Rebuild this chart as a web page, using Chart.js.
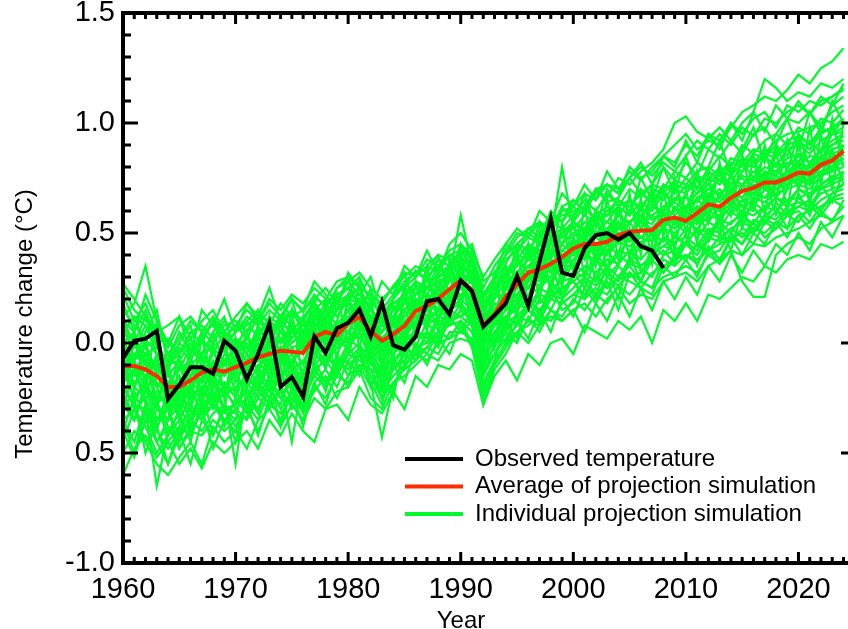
<!DOCTYPE html>
<html>
<head>
<meta charset="utf-8">
<script src="https://cdn.jsdelivr.net/npm/chart.js@4.4.1/dist/chart.umd.min.js"></script>
<style>
  html, body { margin: 0; padding: 0; background: #fff; }
</style>
</head>
<body>
<canvas id="chart" width="848" height="629"></canvas>
<script>
// x categories: one value per year
const years = [];
for (let yr = 1960; yr <= 2024; yr++) years.push(yr);

const yTickLabels = ['-1.0', '0.5', '0.0', '0.5', '1.0', '1.5'];
const xTitle = 'Year';
const yTitle = 'Temperature change (°C)';
const legendLabels = ['Observed temperature', 'Average of projection simulation', 'Individual projection simulation'];

const observed = [
  -0.07, 0.01, 0.02, 0.055, -0.255, -0.19, -0.11, -0.11, -0.14, 0.01,
  -0.035, -0.165, -0.05, 0.088, -0.2, -0.155, -0.245, 0.03, -0.045, 0.067,
  0.092, 0.153, 0.03, 0.185, -0.01, -0.03, 0.03, 0.19, 0.2, 0.13,
  0.285, 0.235, 0.075, 0.125, 0.18, 0.305, 0.168, 0.37, 0.565, 0.32,
  0.305, 0.43, 0.49, 0.5, 0.47, 0.5, 0.44, 0.42, 0.34
];

const average = [
  -0.105, -0.105, -0.12, -0.15, -0.2, -0.2, -0.17, -0.135, -0.12, -0.13,
  -0.11, -0.09, -0.065, -0.05, -0.035, -0.04, -0.045, 0.027, 0.05, 0.035,
  0.09, 0.118, 0.055, 0.01, 0.04, 0.077, 0.145, 0.168, 0.2, 0.244,
  0.285, 0.24, 0.08, 0.13, 0.21, 0.267, 0.32, 0.335, 0.36, 0.39,
  0.43, 0.45, 0.45, 0.46, 0.49, 0.506, 0.51, 0.513, 0.56, 0.57,
  0.555, 0.59, 0.63, 0.62, 0.66, 0.69, 0.705, 0.73, 0.73, 0.75,
  0.775, 0.77, 0.81, 0.83, 0.873
];

// individual runs, 1960-2024
const sim01 = [0.12,0.18,0.35,0.10,-0.05,0.02,0.10,0.05,0.12,0.03, 0.08,0.15,0.10,0.18,0.12,0.20,0.14,0.22,0.16,0.25, 0.28,0.22,0.30,0.12,0.20,0.26,0.33,0.28,0.38,0.35, 0.42,0.40,0.22,0.30,0.45,0.40,0.52,0.48,0.60,0.55, 0.62,0.58,0.70,0.64,0.66,0.75,0.68,0.72,0.80,0.74, 0.82,0.76,0.88,0.84,0.92,0.86,0.95,0.98,0.90,1.02, 1.00,1.05,0.98,1.08,1.12];
const sim02 = [-0.45,-0.30,-0.38,-0.50,-0.42,-0.35,-0.40,-0.32,-0.28,-0.36, -0.30,-0.34,-0.22,-0.28,-0.20,-0.30,-0.25,-0.15,-0.20,-0.12, -0.10,-0.05,-0.15,-0.25,-0.12,-0.08,-0.02,0.00,0.05,0.02, 0.10,0.05,-0.12,-0.05,0.02,0.08,0.15,0.10,0.20,0.18, 0.22,0.28,0.20,0.30,0.26,0.32,0.28,0.25,0.38,0.35, 0.40,0.36,0.44,0.38,0.48,0.50,0.45,0.55,0.52,0.58, 0.60,0.55,0.62,0.66,0.68];
const sim03 = [-0.08,-0.15,-0.05,-0.18,-0.25,-0.15,-0.22,-0.10,-0.16,-0.08, -0.14,-0.05,-0.12,0.00,-0.08,-0.02,-0.10,0.06,0.00,0.08, 0.05,0.15,0.08,-0.04,0.10,0.04,0.18,0.12,0.22,0.20, 0.30,0.22,0.05,0.18,0.16,0.30,0.28,0.38,0.32,0.42, 0.40,0.48,0.42,0.50,0.45,0.55,0.48,0.52,0.58,0.54, 0.60,0.56,0.65,0.60,0.70,0.66,0.74,0.70,0.76,0.72, 0.80,0.75,0.84,0.80,0.88];
const sim04 = [-0.20,-0.28,-0.30,-0.65,-0.40,-0.32,-0.20,-0.26,-0.18,-0.24, -0.20,-0.15,-0.22,-0.10,-0.16,-0.08,-0.18,-0.05,-0.10,0.00, -0.02,0.05,-0.08,-0.15,-0.05,0.00,0.06,0.02,0.12,0.10, 0.18,0.12,-0.05,0.05,0.10,0.18,0.15,0.25,0.22,0.30, 0.32,0.30,0.38,0.34,0.40,0.36,0.45,0.40,0.44,0.48, 0.45,0.52,0.50,0.56,0.54,0.60,0.58,0.62,0.66,0.64, 0.70,0.66,0.72,0.76,0.74];
const sim05 = [0.05,-0.02,0.08,0.00,-0.10,-0.05,0.02,-0.08,0.00,-0.04, 0.02,-0.05,0.05,0.02,0.08,0.00,0.05,0.12,0.08,0.15, 0.20,0.18,0.10,0.05,0.12,0.18,0.22,0.30,0.25,0.32, 0.38,0.30,0.15,0.22,0.32,0.36,0.40,0.45,0.42,0.50, 0.55,0.50,0.58,0.55,0.62,0.58,0.64,0.60,0.68,0.65, 0.72,0.68,0.75,0.72,0.80,0.78,0.82,0.85,0.80,0.88, 0.90,0.86,0.92,0.95,0.98];
const sim06 = [-0.25,-0.10,-0.20,-0.30,-0.35,-0.22,-0.30,-0.15,-0.28,-0.18, -0.25,-0.12,-0.18,-0.05,-0.15,-0.10,-0.20,-0.02,-0.08,0.02, 0.00,0.08,-0.02,-0.10,0.02,0.10,0.08,0.18,0.14,0.22, 0.25,0.18,0.00,0.10,0.20,0.22,0.30,0.26,0.35,0.30, 0.38,0.42,0.36,0.45,0.40,0.48,0.44,0.50,0.46,0.55, 0.50,0.58,0.55,0.62,0.58,0.65,0.62,0.70,0.66,0.72, 0.75,0.72,0.78,0.80,0.84];
const sim07 = [0.00,-0.08,-0.02,-0.12,-0.15,-0.20,-0.10,-0.05,-0.12,0.00, -0.05,0.00,-0.06,0.05,0.00,0.08,0.02,0.10,0.15,0.08, 0.15,0.20,0.12,0.02,0.08,0.15,0.20,0.18,0.28,0.30, 0.58,0.35,0.10,0.20,0.28,0.32,0.38,0.35,0.45,0.48, 0.48,0.55,0.50,0.52,0.58,0.55,0.60,0.58,0.62,0.66, 0.62,0.68,0.72,0.66,0.75,0.72,0.78,0.76,0.82,0.80, 0.85,0.82,0.88,0.90,0.92];
const sim08 = [-0.35,-0.45,-0.28,-0.40,-0.48,-0.40,-0.55,-0.35,-0.42,-0.30, -0.38,-0.28,-0.35,-0.20,-0.30,-0.22,-0.32,-0.18,-0.12,-0.20, -0.08,-0.15,-0.05,-0.20,-0.10,-0.02,-0.05,0.05,0.00,0.10, 0.12,0.08,-0.15,0.00,0.05,0.12,0.10,0.20,0.15,0.25, 0.28,0.22,0.30,0.25,0.35,0.30,0.32,0.38,0.42,0.36, 0.45,0.40,0.48,0.46,0.52,0.48,0.56,0.54,0.60,0.58, 0.62,0.65,0.60,0.68,0.72];
const sim09 = [0.10,0.05,0.15,0.00,0.02,-0.05,0.05,0.08,0.02,0.10, 0.05,0.12,0.08,0.15,0.10,0.05,0.12,0.18,0.12,0.22, 0.25,0.30,0.18,0.15,0.22,0.25,0.30,0.35,0.32,0.40, 0.42,0.38,0.20,0.28,0.36,0.45,0.42,0.50,0.55,0.52, 0.58,0.65,0.60,0.68,0.62,0.70,0.66,0.72,0.70,0.78, 0.75,0.82,0.78,0.85,0.80,0.90,0.86,0.92,0.95,0.90, 0.98,0.95,1.02,1.00,1.06];
const sim10 = [-0.15,-0.20,-0.25,-0.22,-0.30,-0.28,-0.18,-0.22,-0.10,-0.20, -0.15,-0.20,-0.10,-0.12,-0.05,-0.12,-0.08,-0.02,0.02,-0.05, 0.05,0.02,0.00,-0.08,-0.02,0.06,0.12,0.10,0.15,0.18, 0.22,0.20,0.02,0.08,0.15,0.20,0.25,0.30,0.28,0.35, 0.35,0.40,0.38,0.42,0.46,0.44,0.48,0.46,0.52,0.50, 0.55,0.52,0.58,0.56,0.62,0.60,0.66,0.64,0.68,0.70, 0.72,0.70,0.76,0.78,0.80];
const sim11 = [0.22,0.10,0.18,0.05,0.08,0.12,0.02,0.10,0.15,0.05, 0.12,0.18,0.10,0.20,0.15,0.22,0.18,0.25,0.20,0.28, 0.30,0.25,0.22,0.18,0.26,0.32,0.30,0.38,0.35,0.42, 0.45,0.40,0.25,0.35,0.42,0.50,0.48,0.55,0.52,0.62, 0.65,0.60,0.68,0.72,0.70,0.78,0.74,0.80,0.85,0.90, 0.95,0.88,0.92,0.90,0.98,1.05,1.08,1.12,1.10,1.15, 1.22,1.18,1.25,1.28,1.34];
const sim12 = [-0.50,-0.40,-0.45,-0.55,-0.60,-0.52,-0.45,-0.55,-0.38,-0.45, -0.40,-0.48,-0.35,-0.30,-0.38,-0.28,-0.35,-0.25,-0.30,-0.22, -0.20,-0.12,-0.25,-0.30,-0.18,-0.15,-0.10,-0.05,-0.08,0.00, 0.02,0.00,-0.20,-0.10,-0.02,0.05,0.00,0.08,0.12,0.10, 0.15,0.18,0.12,0.20,0.25,0.18,0.22,0.20,0.28,0.30, 0.32,0.28,0.35,0.38,0.42,0.40,0.45,0.44,0.48,0.50, 0.52,0.55,0.58,0.56,0.62];
const sim13 = [-0.05,0.02,-0.08,-0.10,-0.18,-0.12,-0.08,-0.15,-0.05,-0.10, -0.02,-0.08,0.02,-0.04,0.05,-0.02,0.00,0.08,0.12,0.05, 0.12,0.15,0.05,0.08,0.05,0.12,0.18,0.22,0.20,0.28, 0.32,0.28,0.12,0.15,0.25,0.30,0.35,0.40,0.48,0.80, 0.52,0.48,0.55,0.50,0.58,0.54,0.62,0.56,0.60,0.64, 0.60,0.66,0.70,0.68,0.72,0.75,0.70,0.78,0.76,0.82, 0.80,0.85,0.84,0.90,0.94];
const sim14 = [-0.12,-0.25,-0.18,-0.28,-0.22,-0.35,-0.25,-0.20,-0.30,-0.22, -0.28,-0.18,-0.25,-0.15,-0.20,-0.12,-0.22,-0.10,-0.05,-0.12, -0.05,0.00,-0.10,-0.12,-0.08,-0.02,0.05,0.00,0.10,0.08, 0.15,0.10,-0.08,0.02,0.12,0.15,0.20,0.18,0.25,0.28, 0.30,0.35,0.32,0.38,0.36,0.42,0.38,0.44,0.40,0.46, 0.48,0.44,0.52,0.50,0.55,0.58,0.54,0.62,0.60,0.65, 0.66,0.68,0.70,0.74,0.76];
const sim15 = [0.15,0.08,0.02,-0.05,-0.12,-0.02,-0.08,0.02,-0.05,0.05, 0.00,0.05,0.10,0.05,0.12,0.08,0.02,0.15,0.10,0.18, 0.22,0.25,0.15,0.10,0.18,0.20,0.28,0.25,0.32,0.35, 0.35,0.32,0.18,0.25,0.30,0.38,0.45,0.42,0.48,0.52, 0.52,0.58,0.55,0.60,0.65,0.62,0.68,0.64,0.72,0.70, 0.68,0.75,0.72,0.78,0.76,0.82,0.80,0.86,0.84,0.90, 0.92,0.88,0.95,0.98,1.00];
const sim16 = [-0.30,-0.22,-0.35,-0.28,-0.38,-0.45,-0.32,-0.28,-0.25,-0.35, -0.30,-0.25,-0.18,-0.25,-0.15,-0.20,-0.28,-0.12,-0.18,-0.08, -0.12,-0.05,-0.18,-0.43,-0.20,-0.10,-0.05,-0.02,0.05,0.08, 0.10,0.05,-0.10,-0.02,0.08,0.10,0.15,0.12,0.22,0.20, 0.25,0.30,0.26,0.32,0.28,0.36,0.34,0.30,0.40,0.42, 0.38,0.45,0.42,0.48,0.46,0.52,0.50,0.56,0.54,0.60, 0.62,0.60,0.65,0.68,0.70];
const sim17 = [0.25,0.15,0.10,0.05,-0.02,0.08,0.12,0.05,0.00,0.08, 0.10,0.05,0.15,0.08,0.18,0.12,0.15,0.20,0.25,0.18, 0.28,0.32,0.25,0.20,0.25,0.30,0.35,0.32,0.40,0.38, 0.40,0.45,0.28,0.32,0.40,0.48,0.52,0.55,0.50,0.60, 0.62,0.68,0.65,0.72,0.68,0.75,0.80,0.76,0.82,0.78, 0.85,0.92,0.88,0.95,0.90,0.98,0.94,1.02,1.00,1.05, 1.08,1.04,1.10,1.12,1.15];
const sim18 = [-0.02,-0.10,-0.15,-0.08,-0.22,-0.18,-0.12,-0.18,-0.08,-0.15, -0.08,-0.12,-0.02,-0.08,0.02,-0.05,-0.02,0.05,0.02,0.10, 0.08,0.12,0.02,0.00,0.05,0.10,0.15,0.20,0.18,0.25, 0.28,0.25,0.08,0.12,0.22,0.25,0.32,0.30,0.38,0.35, 0.45,0.42,0.48,0.44,0.52,0.50,0.55,0.52,0.58,0.56, 0.58,0.62,0.60,0.66,0.64,0.70,0.68,0.74,0.72,0.78, 0.76,0.80,0.82,0.85,0.86];
const sim19 = [-0.40,-0.52,-0.35,-0.45,-0.38,-0.48,-0.40,-0.42,-0.35,-0.40, -0.35,-0.30,-0.40,-0.28,-0.32,-0.25,-0.30,-0.22,-0.15,-0.25, -0.15,-0.10,-0.20,-0.22,-0.15,-0.10,-0.05,-0.08,0.00,0.02, 0.05,0.02,-0.18,-0.08,0.00,0.05,0.10,0.08,0.15,0.12, 0.20,0.15,0.22,0.18,0.26,0.22,0.28,0.25,0.30,0.32, 0.35,0.32,0.40,0.36,0.42,0.28,0.21,0.21,0.40,0.45, 0.48,0.45,0.52,0.55,0.58];
const sim20 = [0.08,0.00,-0.05,-0.02,-0.10,-0.08,-0.15,-0.05,-0.02,-0.08, -0.02,0.02,-0.02,0.08,0.02,0.05,-0.02,0.12,0.08,0.15, 0.18,0.12,0.15,0.08,0.10,0.15,0.22,0.25,0.22,0.30, 0.35,0.30,0.15,0.20,0.28,0.32,0.38,0.42,0.40,0.45, 0.50,0.52,0.50,0.55,0.52,0.60,0.58,0.62,0.60,0.65, 0.66,0.64,0.70,0.74,0.70,0.76,0.74,0.80,0.78,0.84, 0.86,0.82,0.88,0.92,0.95];
const sim21 = [-0.18,-0.12,-0.28,-0.35,-0.28,-0.25,-0.22,-0.30,-0.20,-0.18, -0.22,-0.15,-0.20,-0.08,-0.12,-0.18,-0.12,-0.05,-0.10,-0.02, 0.02,-0.02,-0.05,-0.18,-0.05,0.02,0.10,0.08,0.12,0.15, 0.20,0.15,-0.02,0.08,0.12,0.18,0.22,0.25,0.30,0.28, 0.36,0.32,0.40,0.35,0.42,0.40,0.46,0.42,0.48,0.45, 0.52,0.48,0.55,0.52,0.60,0.56,0.64,0.60,0.66,0.62, 0.70,0.68,0.72,0.75,0.78];
const sim22 = [0.05,0.12,0.08,-0.05,-0.08,0.00,-0.05,0.05,0.08,0.00, 0.05,0.08,0.12,0.10,0.05,0.15,0.10,0.20,0.18,0.22, 0.25,0.28,0.20,0.12,0.20,0.28,0.32,0.30,0.35,0.40, 0.38,0.35,0.22,0.30,0.38,0.42,0.48,0.45,0.55,0.58, 0.60,0.62,0.70,0.66,0.75,0.72,0.78,0.82,0.88,1.00, 1.03,0.96,0.93,0.98,0.92,1.00,1.05,1.20,1.16,1.10, 1.14,1.12,1.18,1.16,1.20];
const sim23 = [-0.28,-0.35,-0.22,-0.25,-0.45,-0.38,-0.30,-0.35,-0.28,-0.32, -0.28,-0.22,-0.30,-0.18,-0.25,-0.15,-0.20,-0.12,-0.08,-0.15, -0.05,-0.08,-0.12,-0.15,-0.12,-0.05,0.02,0.05,0.02,0.12, 0.12,0.15,-0.05,0.00,0.10,0.12,0.18,0.22,0.20,0.25, 0.28,0.32,0.28,0.35,0.30,0.38,0.35,0.40,0.44,0.42, 0.46,0.42,0.50,0.48,0.52,0.55,0.52,0.58,0.56,0.62, 0.64,0.62,0.68,0.70,0.72];
const sim24 = [0.00,0.05,-0.10,-0.08,-0.05,-0.12,-0.02,-0.08,-0.10,-0.02, 0.02,-0.02,0.05,0.10,0.05,0.02,0.08,0.10,0.18,0.12, 0.20,0.22,0.15,0.10,0.15,0.22,0.25,0.28,0.30,0.35, 0.40,0.32,0.18,0.22,0.30,0.35,0.42,0.40,0.48,0.50, 0.55,0.52,0.58,0.62,0.58,0.65,0.62,0.68,0.65,0.72, 0.70,0.76,0.74,0.80,0.78,0.84,0.82,0.88,0.86,0.92, 0.94,0.90,0.96,0.98,1.02];
const sim25 = [-0.10,-0.18,-0.12,-0.20,-0.30,-0.25,-0.35,-0.20,-0.15,-0.25, -0.55,-0.20,-0.15,-0.10,-0.18,-0.45,-0.15,-0.02,-0.05,0.05, 0.02,0.08,0.00,-0.05,0.00,0.05,0.10,0.15,0.12,0.20, 0.25,0.20,0.00,0.10,0.18,0.22,0.28,0.32,0.30,0.38, 0.40,0.38,0.44,0.40,0.46,0.48,0.45,0.50,0.55,0.52, 0.56,0.54,0.60,0.58,0.64,0.62,0.68,0.66,0.70,0.72, 0.74,0.72,0.78,0.80,0.82];
const sim26 = [-0.05,-0.05,0.00,-0.15,-0.20,-0.10,-0.15,-0.12,-0.18,-0.05, -0.10,-0.02,-0.08,0.02,-0.05,0.05,0.00,0.08,0.05,0.02, 0.10,0.18,0.05,0.02,0.08,0.12,0.20,0.15,0.25,0.22, 0.30,0.28,0.10,0.15,0.25,0.28,0.35,0.32,0.40,0.42, 0.46,0.44,0.50,0.48,0.55,0.50,0.56,0.54,0.62,0.58, 0.62,0.60,0.68,0.64,0.70,0.72,0.75,0.72,0.78,0.76, 0.82,0.80,0.84,0.88,0.90];
const sim27 = [-0.60,-0.48,-0.42,-0.52,-0.45,-0.55,-0.48,-0.57,-0.45,-0.50, -0.45,-0.40,-0.48,-0.35,-0.42,-0.32,-0.40,-0.45,-0.30,-0.28, -0.35,-0.20,-0.28,-0.32,-0.22,-0.30,-0.15,-0.20,-0.10,-0.12, -0.05,-0.08,-0.28,-0.15,-0.08,-0.17,-0.05,-0.10,0.00,0.02, -0.05,0.08,0.05,0.02,0.10,0.06,0.12,0.00,0.15,0.10, 0.18,0.10,0.22,0.20,0.25,0.30,0.28,0.35,0.32,0.38, 0.40,0.38,0.45,0.43,0.46];
const sim28 = [-0.15,-0.05,-0.10,-0.12,-0.25,-0.30,-0.20,-0.10,-0.15,-0.20, -0.12,-0.08,0.00,-0.05,-0.02,-0.08,0.00,0.02,0.08,0.02, 0.12,0.08,0.05,-0.02,0.02,0.08,0.12,0.18,0.15,0.22, 0.25,0.28,0.05,0.15,0.18,0.25,0.30,0.35,0.32,0.40, 0.42,0.45,0.40,0.48,0.50,0.46,0.52,0.58,0.55,0.60, 0.62,0.58,0.64,0.62,0.68,0.66,0.72,0.70,0.74,0.76, 0.78,0.76,0.80,0.84,0.86];
const sim29 = [0.27,0.20,0.12,0.05,0.00,-0.05,0.05,0.00,0.10,0.02, 0.08,0.02,0.12,0.05,0.10,0.15,0.08,0.15,0.20,0.15, 0.22,0.20,0.12,0.05,0.15,0.18,0.25,0.22,0.30,0.32, 0.38,0.35,0.18,0.25,0.32,0.40,0.38,0.45,0.50,0.48, 0.55,0.52,0.60,0.58,0.62,0.65,0.60,0.70,0.68,0.74, 0.72,0.78,0.80,0.76,0.84,0.82,0.88,0.86,0.92,0.95, 0.96,0.98,1.00,1.05,1.08];
const sim30 = [-0.35,-0.30,-0.45,-0.38,-0.55,-0.42,-0.35,-0.40,-0.32,-0.28, -0.32,-0.35,-0.25,-0.30,-0.22,-0.28,-0.35,-0.20,-0.25,-0.15, -0.18,-0.10,-0.12,-0.25,-0.18,-0.12,-0.08,-0.02,-0.05,0.05, 0.05,0.10,-0.28,-0.12,-0.05,0.05,0.08,0.12,0.10,0.18, 0.22,0.20,0.25,0.22,0.30,0.28,0.25,0.32,0.35,0.38, 0.40,0.38,0.42,0.45,0.48,0.45,0.52,0.50,0.55,0.52, 0.58,0.60,0.62,0.65,0.66];
const sim31 = [0.05,-0.22,0.02,-0.30,-0.08,-0.35,-0.05,-0.28,0.00,-0.25, 0.02,-0.20,0.08,-0.18,0.10,-0.15,0.12,-0.10,0.18,-0.08, 0.22,-0.02,0.18,-0.12,0.18,-0.05,0.28,0.05,0.32,0.10, 0.40,0.10,0.18,-0.02,0.32,0.12,0.45,0.20,0.48,0.25, 0.58,0.30,0.60,0.32,0.62,0.38,0.66,0.36,0.70,0.42, 0.70,0.45,0.78,0.48,0.80,0.55,0.85,0.58,0.88,0.60, 0.92,0.62,0.95,0.70,1.00];
const sim32 = [-0.15,0.05,-0.20,0.10,-0.25,-0.05,-0.30,0.05,-0.20,0.02, -0.25,0.05,-0.15,0.12,-0.12,0.15,-0.18,0.20,-0.02,0.22, 0.00,0.28,-0.05,0.18,-0.08,0.25,0.05,0.35,0.08,0.38, 0.15,0.42,-0.05,0.30,0.05,0.42,0.18,0.52,0.22,0.55, 0.32,0.62,0.35,0.66,0.38,0.68,0.40,0.72,0.48,0.75, 0.50,0.78,0.55,0.82,0.58,0.86,0.62,0.90,0.65,0.92, 0.70,0.98,0.72,1.02,0.80];
const sim33 = [-0.30,-0.12,-0.25,-0.40,-0.20,-0.32,-0.45,-0.25,-0.15,-0.30, -0.35,-0.10,-0.20,-0.28,-0.05,-0.22,-0.30,-0.08,0.05,-0.15, -0.05,0.15,-0.08,-0.20,0.05,-0.10,0.10,0.20,0.05,0.18, 0.30,0.08,-0.10,0.15,0.05,0.28,0.15,0.22,0.38,0.20, 0.30,0.48,0.28,0.42,0.35,0.52,0.32,0.40,0.55,0.38, 0.45,0.62,0.48,0.58,0.70,0.52,0.66,0.75,0.58,0.70, 0.82,0.65,0.76,0.88,0.72];
const sim34 = [0.10,-0.08,0.05,0.15,-0.10,0.00,0.08,-0.12,0.05,0.12, -0.05,0.10,0.15,-0.02,0.12,0.20,0.02,0.18,0.08,0.25, 0.30,0.12,0.25,0.08,0.20,0.32,0.15,0.35,0.40,0.22, 0.45,0.30,0.10,0.32,0.25,0.45,0.38,0.55,0.40,0.62, 0.55,0.68,0.52,0.70,0.62,0.58,0.75,0.65,0.80,0.68, 0.85,0.70,0.80,0.92,0.76,0.88,0.98,0.82,0.95,1.02, 0.88,1.05,0.95,1.10,1.00];
const sim35 = [-0.40,-0.25,-0.50,-0.35,-0.30,-0.48,-0.38,-0.22,-0.42,-0.28, -0.45,-0.25,-0.32,-0.15,-0.38,-0.20,-0.28,-0.10,-0.22,-0.05, -0.15,-0.02,-0.20,-0.10,-0.25,0.00,-0.08,0.05,-0.02,0.12, 0.05,0.15,-0.22,-0.08,0.10,0.02,0.20,0.08,0.25,0.15, 0.18,0.30,0.22,0.35,0.20,0.40,0.28,0.45,0.32,0.38, 0.50,0.35,0.48,0.55,0.42,0.60,0.50,0.58,0.62,0.52, 0.68,0.58,0.72,0.64,0.78];
const sim36 = [-0.20,0.00,-0.10,-0.28,-0.35,-0.10,-0.25,0.02,-0.18,-0.30, -0.05,-0.20,0.05,-0.12,-0.20,0.08,-0.05,0.15,-0.02,0.10, 0.22,0.05,0.20,-0.05,0.12,0.20,0.05,0.30,0.18,0.35, 0.20,0.38,0.02,0.22,0.35,0.18,0.42,0.30,0.50,0.35, 0.48,0.38,0.58,0.45,0.62,0.48,0.55,0.68,0.50,0.72, 0.60,0.75,0.62,0.80,0.68,0.78,0.85,0.70,0.90,0.78, 0.95,0.80,0.88,0.98,0.85];
const sim37 = [-0.05,-0.28,-0.15,-0.35,-0.25,-0.15,-0.38,-0.20,-0.28,-0.08, -0.22,-0.30,-0.12,-0.20,-0.02,-0.18,-0.25,0.00,-0.12,0.08, -0.05,0.10,0.12,-0.10,0.02,0.15,0.05,0.22,0.12,0.18, 0.32,0.15,0.05,0.00,0.22,0.15,0.30,0.38,0.25,0.40, 0.35,0.50,0.38,0.45,0.55,0.40,0.52,0.46,0.60,0.48, 0.58,0.50,0.65,0.56,0.70,0.62,0.60,0.76,0.66,0.80, 0.70,0.82,0.76,0.80,0.90];
const sim38 = [0.18,0.05,0.22,0.10,0.00,0.12,-0.05,0.15,0.08,0.20, 0.05,0.18,0.12,0.25,0.10,0.20,0.15,0.28,0.22,0.15, 0.32,0.25,0.15,0.28,0.22,0.35,0.30,0.42,0.32,0.45, 0.50,0.42,0.30,0.38,0.45,0.52,0.48,0.60,0.55,0.68, 0.62,0.72,0.65,0.78,0.70,0.75,0.82,0.72,0.85,0.80, 0.92,0.82,0.95,0.88,1.00,0.92,1.05,0.96,1.08,1.02, 1.10,1.04,1.12,1.08,1.18];
const sim39 = [-0.35,-0.50,-0.30,-0.45,-0.55,-0.38,-0.42,-0.30,-0.48,-0.35, -0.40,-0.28,-0.42,-0.25,-0.35,-0.22,-0.38,-0.18,-0.28,-0.12, -0.20,-0.05,-0.18,-0.28,-0.10,-0.18,-0.02,-0.10,0.02,-0.05, 0.08,-0.02,-0.25,-0.10,-0.02,0.10,0.02,0.15,0.05,0.20, 0.12,0.25,0.18,0.28,0.15,0.32,0.25,0.22,0.35,0.30, 0.38,0.30,0.42,0.36,0.48,0.40,0.50,0.45,0.55,0.48, 0.58,0.52,0.60,0.55,0.65];
const sim40 = [-0.12,0.02,-0.18,-0.05,-0.28,-0.20,-0.08,-0.22,-0.12,-0.02, -0.18,-0.08,-0.15,0.02,-0.10,-0.05,-0.15,0.10,-0.02,0.05, 0.15,0.05,0.10,-0.02,0.08,0.02,0.20,0.12,0.25,0.15, 0.35,0.20,0.12,0.08,0.25,0.20,0.28,0.40,0.32,0.45, 0.40,0.52,0.45,0.40,0.55,0.48,0.58,0.50,0.52,0.62, 0.55,0.66,0.58,0.68,0.62,0.72,0.65,0.78,0.70,0.74, 0.80,0.72,0.85,0.78,0.90];
const sim41 = [0.02,-0.12,-0.05,-0.20,-0.12,-0.25,-0.02,-0.10,-0.18,0.05, -0.10,0.05,-0.08,0.08,-0.05,0.10,0.00,0.05,0.15,0.02, 0.18,0.10,0.02,0.12,-0.02,0.20,0.15,0.25,0.28,0.20, 0.38,0.28,0.12,0.25,0.18,0.38,0.32,0.45,0.38,0.50, 0.52,0.45,0.60,0.50,0.58,0.65,0.52,0.62,0.70,0.60, 0.68,0.74,0.66,0.78,0.72,0.82,0.75,0.85,0.80,0.88, 0.82,0.92,0.86,0.95,0.96];
const sim42 = [-0.22,-0.35,-0.18,-0.28,-0.42,-0.30,-0.20,-0.32,-0.22,-0.38, -0.25,-0.32,-0.18,-0.25,-0.12,-0.28,-0.15,-0.08,-0.18,-0.10, 0.00,-0.12,-0.02,-0.15,-0.05,0.05,-0.02,0.10,0.02,0.15, 0.18,0.08,-0.12,0.05,0.00,0.15,0.22,0.12,0.28,0.22, 0.32,0.25,0.38,0.30,0.36,0.42,0.35,0.38,0.48,0.40, 0.45,0.52,0.46,0.55,0.50,0.58,0.62,0.55,0.64,0.58, 0.66,0.62,0.70,0.72,0.75];
const sim43 = [0.05,0.12,-0.02,0.02,-0.15,-0.08,0.00,-0.05,0.05,-0.10, 0.00,-0.05,0.08,0.00,0.12,0.02,0.10,0.18,0.05,0.15, 0.20,0.25,0.08,0.15,0.10,0.25,0.22,0.30,0.25,0.35, 0.42,0.35,0.15,0.25,0.35,0.30,0.45,0.40,0.52,0.45, 0.55,0.62,0.55,0.58,0.65,0.60,0.70,0.62,0.72,0.68, 0.75,0.70,0.78,0.74,0.82,0.80,0.86,0.84,0.90,0.85, 0.95,0.90,0.98,0.95,1.02];
const sim44 = [-0.15,-0.08,-0.22,-0.12,-0.30,-0.22,-0.15,-0.05,-0.25,-0.12, -0.15,-0.10,-0.02,-0.15,-0.05,-0.10,0.02,-0.05,0.08,0.00, 0.10,0.02,0.05,-0.08,0.05,0.08,0.12,0.18,0.15,0.22, 0.25,0.28,0.05,0.12,0.20,0.25,0.30,0.28,0.36,0.32, 0.42,0.40,0.45,0.42,0.50,0.46,0.52,0.50,0.55,0.52, 0.60,0.55,0.62,0.60,0.66,0.64,0.70,0.66,0.72,0.74, 0.76,0.74,0.80,0.82,0.84];
const sim45 = [0.00,-0.20,-0.08,-0.25,-0.18,-0.28,-0.10,-0.18,-0.02,-0.22, -0.08,-0.15,0.00,-0.10,-0.02,-0.12,0.05,-0.02,0.12,0.00, 0.08,0.18,0.00,0.05,0.10,0.00,0.18,0.22,0.15,0.30, 0.25,0.32,0.10,0.18,0.15,0.32,0.25,0.35,0.42,0.36, 0.45,0.50,0.40,0.52,0.48,0.55,0.58,0.48,0.60,0.55, 0.62,0.58,0.66,0.70,0.62,0.72,0.70,0.76,0.74,0.78, 0.82,0.78,0.85,0.86,0.88];
const sim46 = [-0.25,-0.35,-0.20,-0.38,-0.30,-0.42,-0.28,-0.35,-0.22,-0.30, -0.28,-0.20,-0.32,-0.15,-0.25,-0.18,-0.30,-0.12,-0.20,-0.10, -0.08,-0.02,-0.12,-0.22,-0.08,-0.12,0.00,-0.05,0.05,0.02, 0.10,0.00,-0.15,-0.05,0.05,0.00,0.12,0.05,0.15,0.10, 0.15,0.05,0.18,0.10,0.22,0.12,0.25,0.15,0.28,0.20, 0.30,0.22,0.35,0.28,0.40,0.32,0.42,0.35,0.45,0.40, 0.50,0.42,0.55,0.48,0.58];
const sim47 = [-0.18,-0.30,-0.25,-0.45,-0.35,-0.28,-0.40,-0.30,-0.25,-0.20, -0.30,-0.25,-0.15,-0.22,-0.28,-0.12,-0.20,-0.15,-0.05,-0.12, -0.02,0.05,-0.05,-0.12,-0.02,0.02,0.05,0.12,0.08,0.15, 0.12,0.18,-0.05,0.05,0.12,0.08,0.20,0.15,0.22,0.25, 0.28,0.20,0.32,0.25,0.30,0.35,0.28,0.38,0.32,0.40, 0.38,0.45,0.40,0.42,0.50,0.45,0.55,0.48,0.52,0.58, 0.55,0.62,0.58,0.65,0.62];
const sim48 = [0.10,0.00,0.12,-0.02,-0.08,0.05,-0.05,0.02,0.10,-0.02, 0.05,0.10,0.02,0.12,0.08,0.15,0.05,0.18,0.12,0.20, 0.25,0.18,0.22,0.10,0.18,0.22,0.28,0.25,0.35,0.30, 0.45,0.38,0.20,0.30,0.40,0.45,0.50,0.46,0.58,0.55, 0.65,0.60,0.70,0.72,0.68,0.80,0.75,0.78,0.85,0.82, 0.90,0.85,0.95,0.92,1.00,0.95,1.02,1.05,0.98,1.08, 1.05,1.10,1.08,1.12,1.16];

const sims = [sim01, sim02, sim03, sim04, sim05, sim06, sim07, sim08, sim09, sim10,
              sim11, sim12, sim13, sim14, sim15, sim16, sim17, sim18, sim19, sim20,
              sim21, sim22, sim23, sim24, sim25, sim26, sim27, sim28, sim29, sim30,
              sim31, sim32, sim33, sim34, sim35, sim36, sim37, sim38, sim39, sim40,
              sim41, sim42, sim43, sim44, sim45, sim46, sim47, sim48];

const BLACK = '#000000';
const RED = '#ff2d00';
const GREEN = 'rgb(0,250,45)';
const FONT = '"Liberation Sans", Arial, sans-serif';

function toPoints(values) {
    return values.map((v, i) => ({x: years[i], y: v}));
}

function lineSet(label, values, color, width) {
    return {
        label: label,
        data: toPoints(values),
        borderColor: color,
        backgroundColor: color,
        borderWidth: width,
        pointRadius: 0,
        tension: 0,
        fill: false
    };
}

// first dataset is drawn on top
const datasets = [
    lineSet(legendLabels[0], observed, BLACK, 4),
    lineSet(legendLabels[1], average, RED, 4)
];
sims.forEach((s, i) => datasets.push(lineSet(legendLabels[2] + ' ' + (i + 1), s, GREEN, 2.2)));

// axes frame with inward ticks, titles and legend
const framePlugin = {
    id: 'frame',
    afterDraw(chart) {
        const {ctx, chartArea: a, scales: {x, y}} = chart;
        const rightX = a.right + 8;
        ctx.save();
        ctx.strokeStyle = BLACK;
        ctx.lineWidth = 3;
        ctx.beginPath();
        for (let yr = 1960; yr <= 2025; yr++) {
            const px = x.getPixelForValue(yr);
            if (px > a.right + 2) break;
            const len = yr % 10 === 0 ? 11 : 6;
            ctx.moveTo(px, a.top); ctx.lineTo(px, a.top + len);
            ctx.moveTo(px, a.bottom); ctx.lineTo(px, a.bottom - len);
        }
        for (let k = -10; k <= 15; k++) {
            const py = y.getPixelForValue(k / 10);
            const len = k % 5 === 0 ? 15 : 8;
            ctx.moveTo(a.left, py); ctx.lineTo(a.left + len, py);
            ctx.moveTo(rightX, py); ctx.lineTo(rightX - len, py);
        }
        ctx.stroke();
        ctx.lineWidth = 4;
        ctx.strokeRect(a.left, a.top, rightX - a.left, a.bottom - a.top);

        // axis titles
        ctx.fillStyle = BLACK;
        ctx.font = '24px ' + FONT;
        ctx.textAlign = 'center';
        ctx.textBaseline = 'alphabetic';
        ctx.fillText(xTitle, 461, 628);
        ctx.save();
        ctx.translate(25, 324);
        ctx.rotate(-Math.PI / 2);
        ctx.textBaseline = 'middle';
        ctx.fillText(yTitle, 0, 0);
        ctx.restore();

        // legend
        const colors = [BLACK, RED, GREEN];
        ctx.textAlign = 'left';
        ctx.textBaseline = 'middle';
        legendLabels.forEach((lab, i) => {
            const ly = 459 + i * 27.5;
            ctx.strokeStyle = colors[i];
            ctx.lineWidth = 4;
            ctx.beginPath();
            ctx.moveTo(405, ly); ctx.lineTo(463, ly);
            ctx.stroke();
            ctx.fillText(lab, 475, ly);
        });
        ctx.restore();
    }
};

new Chart(document.getElementById('chart'), {
    type: 'line',
    data: { datasets: datasets },
    options: {
        responsive: false,
        animation: false,
        devicePixelRatio: 1,
        layout: { padding: { top: 13, right: 0, bottom: 0, left: 0 } },
        plugins: {
            legend: { display: false },
            tooltip: { enabled: false }
        },
        scales: {
            x: {
                type: 'linear',
                min: 1960,
                max: 2024.4,
                grid: { display: false, drawTicks: false },
                border: { display: false },
                ticks: {
                    stepSize: 10,
                    includeBounds: false,
                    padding: 10,
                    maxRotation: 0,
                    color: BLACK,
                    font: { family: FONT, size: 29 },
                    callback: (v) => String(v)
                },
                afterFit: (scale) => {
                    scale.height = 66;
                    scale.paddingLeft = 0;
                    scale.paddingRight = 0;
                }
            },
            y: {
                min: -1.0,
                max: 1.5,
                grid: { display: false, drawTicks: false },
                border: { display: false },
                ticks: {
                    stepSize: 0.5,
                    padding: 8,
                    color: BLACK,
                    font: { family: FONT, size: 29 },
                    callback: (v, i) => yTickLabels[i]
                },
                afterFit: (scale) => {
                    scale.width = 123;
                    scale.paddingTop = 0;
                    scale.paddingBottom = 0;
                }
            }
        }
    },
    plugins: [framePlugin]
});
</script>
</body>
</html>
